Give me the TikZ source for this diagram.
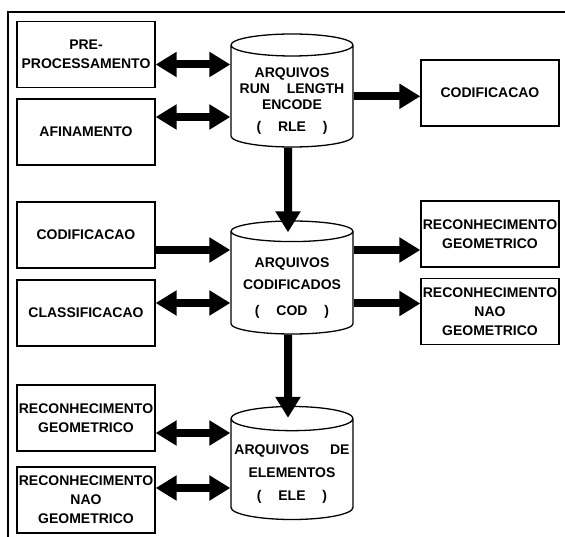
\documentclass[tikz,border=0pt]{standalone}
\usepackage{fontspec}
\setmainfont{Liberation Sans}
\usetikzlibrary{shapes.geometric,arrows.meta,positioning}

\begin{document}
\begin{tikzpicture}[x=1pt,y=-1pt,
  caixa/.style={
    draw,
    line width=1.3pt,
    minimum width=138pt,
    minimum height=66pt,
    inner sep=0pt,
    align=center,
    font=\fontsize{14}{19}\selectfont\bfseries
  },
  arquivo/.style={
    cylinder,
    shape border rotate=90,
    draw,
    line width=1.3pt,
    aspect=0.21,
    minimum width=122pt,
    minimum height=113pt,
    inner xsep=0pt,
    inner ysep=-10.5pt,
    anchor=shape center,
    align=center,
    font=\fontsize{14}{16}\selectfont\bfseries
  },
  seta/.style={line width=8pt, -{Triangle[length=21pt,width=24pt]}},
  setadupla/.style={line width=8pt, {Triangle[length=21pt,width=24pt]}-{Triangle[length=21pt,width=24pt]}}
]
\useasboundingbox (0,0) rectangle (565,537);

% -------- moldura --------
\draw[line width=1.3pt] (8,537) -- (8,12) -- (565,12);

% -------- arquivos --------
\node[arquivo] (rle) at (292,90.5)
{\rule{0pt}{19pt}ARQUIVOS\\RUN\hspace{1.2em}LENGTH\\ENCODE\\[6pt](\hspace{1.2em}RLE\hspace{1.2em})};
\node[arquivo] (cod) at (292,277.5)
{\rule{0pt}{19pt}ARQUIVOS\\[6pt]CODIFICADOS\\[10pt](\hspace{1.2em}COD\hspace{1.2em})};
\node[arquivo] (ele) at (292,463)
{\rule{0pt}{19pt}ARQUIVOS\hspace{1.5em}DE\\[7pt]ELEMENTOS\\[7pt](\hspace{1.2em}ELE\hspace{1.2em})};

% -------- topo --------
\node[caixa] (pre) at (86,54.5) {PRE-\\PROCESSAMENTO};
\node[caixa] (afin) at (86,132) {AFINAMENTO};
\node[caixa] (codR) at (490,93) {CODIFICACAO};

% -------- meio --------
\node[caixa] (codL) at (86,235) {CODIFICACAO};
\node[caixa] (class) at (86,313) {CLASSIFICACAO};
\node[caixa] (rgR) at (490,234) {RECONHECIMENTO\\GEOMETRICO};
\node[caixa] (rngR) at (490,311.5) {RECONHECIMENTO\\NAO\\GEOMETRICO};

% -------- base --------
\node[caixa] (rgL) at (86,418) {RECONHECIMENTO\\GEOMETRICO};
\node[caixa] (rngL) at (86,500) {RECONHECIMENTO\\NAO\\GEOMETRICO};

% -------- setas --------
\draw[setadupla] ([yshift=-10pt]pre.east) -- ([yshift=-10pt]pre.east -| rle.west);
\draw[setadupla] ([yshift=15pt]afin.east) -- ([yshift=15pt]afin.east -| rle.west);
\draw[seta] (rle.east) -- (rle.east -| codR.west);
\draw[seta] ([xshift=-4pt]rle.south) -- ([xshift=-4pt,yshift=-12pt]cod.north);

\draw[seta] ([yshift=-15pt]codL.east) -- ([yshift=-15pt]codL.east -| cod.west);
\draw[setadupla] ([yshift=10pt]class.east) -- ([yshift=10pt]class.east -| cod.west);
\draw[seta] ([yshift=-16pt]rgR.west -| cod.east) -- ([yshift=-16pt]rgR.west);
\draw[seta] ([yshift=8pt]rngR.west -| cod.east) -- ([yshift=8pt]rngR.west);
\draw[seta] ([xshift=-4pt]cod.south) -- ([xshift=-4pt,yshift=-12pt]ele.north);

\draw[setadupla] ([yshift=-15pt]rgL.east) -- ([yshift=-15pt]rgL.east -| ele.west);
\draw[setadupla] ([yshift=12pt]rngL.east) -- ([yshift=12pt]rngL.east -| ele.west);

\end{tikzpicture}
\end{document}
